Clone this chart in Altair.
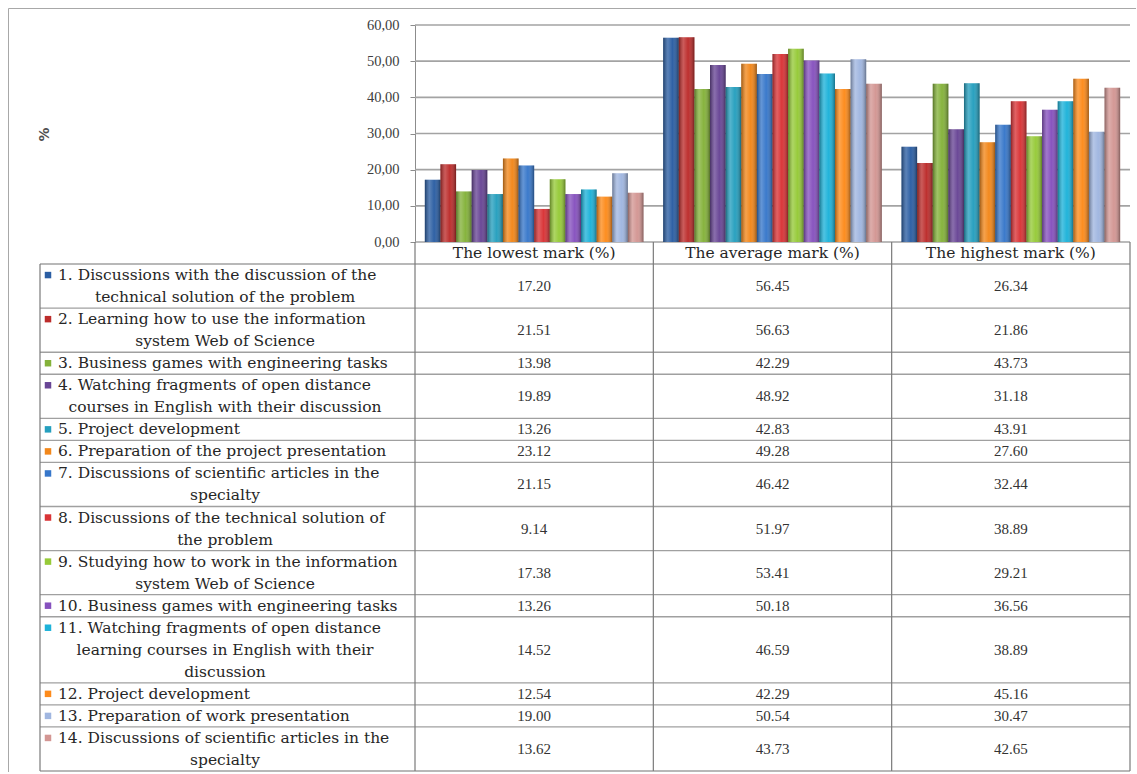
import altair as alt
import pandas as pd

# Mark categories (columns of the data table)
categories = ["The lowest mark (%)", "The average mark (%)", "The highest mark (%)"]

# Activities, already broken into the lines shown in the table
activities = [
    ["1. Discussions with the discussion of the", "technical solution of the problem"],
    ["2. Learning how to use the information", "system Web of Science"],
    ["3. Business games with engineering tasks"],
    ["4. Watching fragments of open distance", "courses in English with their discussion"],
    ["5. Project development"],
    ["6. Preparation of the project presentation"],
    ["7. Discussions of scientific articles in the", "specialty"],
    ["8. Discussions of the technical solution of", "the problem"],
    ["9. Studying how to work in the information", "system Web of Science"],
    ["10. Business games with engineering tasks"],
    ["11. Watching fragments of open distance", "learning courses in English with their", "discussion"],
    ["12. Project development"],
    ["13. Preparation of work presentation"],
    ["14. Discussions of scientific articles in the", "specialty"],
]

lowest = [17.20, 21.51, 13.98, 19.89, 13.26, 23.12, 21.15, 9.14, 17.38, 13.26, 14.52, 12.54, 19.00, 13.62]
average = [56.45, 56.63, 42.29, 48.92, 42.83, 49.28, 46.42, 51.97, 53.41, 50.18, 46.59, 42.29, 50.54, 43.73]
highest = [26.34, 21.86, 43.73, 31.18, 43.91, 27.60, 32.44, 38.89, 29.21, 36.56, 38.89, 45.16, 30.47, 42.65]

series_colors = [
    "#2B5EA3", "#BC2C2B", "#84B23A", "#684595", "#259FBE", "#F2871A",
    "#3777CA", "#D93336", "#96CA38", "#8651BE", "#1DB2D9", "#FD8B1B",
    "#A0B6E0", "#D39693",
]

y_ticks = [0, 10, 20, 30, 40, 50, 60]

# Frame of the chart body, in view pixels
PLOT_LEFT, PLOT_RIGHT = 407, 1122
PLOT_TOP, PLOT_BASE = 17, 234
TABLE_LEFT, TABLE_BOTTOM = 32, 763
LABEL_X, LABEL_MID_X, KEY_X = 50, 217, 40

names = [" ".join(lines) for lines in activities]
columns = [lowest, average, highest]

bars = pd.DataFrame(
    [
        {"activity": names[i], "category": categories[c], "value": columns[c][i]}
        for c in range(3)
        for i in range(len(names))
    ]
)

# Table rows: each row is as tall as its number of text lines
line_rows, value_rows, key_rows, row_edges = [], [], [], [{"y": 0}]
start = 0
for i, lines in enumerate(activities):
    n = len(lines)
    for j, text in enumerate(lines):
        line_rows.append({"text": text, "y": start + j + 0.5, "first": j == 0})
    key_rows.append({"activity": names[i], "y": start + 0.5})
    for c in range(3):
        value_rows.append({"col": c + 0.5, "value": columns[c][i], "y": start + n / 2})
    start += n
    row_edges.append({"y": start})
total_lines = start

lines_df = pd.DataFrame(line_rows)
first_lines = lines_df[lines_df["first"]]
more_lines = lines_df[~lines_df["first"]]
values_df = pd.DataFrame(value_rows)
keys_df = pd.DataFrame(key_rows)
hlines_df = pd.DataFrame(row_edges)
vlines_df = pd.DataFrame({"col": [0, 1, 2, 3], "y0": -1, "y1": total_lines})
left_edge_df = pd.DataFrame({"y0": [0], "y1": [total_lines]})
header_df = pd.DataFrame({"col": [0.5, 1.5, 2.5], "text": categories, "y": -0.5})
grid_df = pd.DataFrame({"tick": y_ticks})

# Scales
bar_x = alt.Scale(domain=categories, range=[PLOT_LEFT, PLOT_RIGHT], paddingInner=0, paddingOuter=0)
bar_off = alt.Scale(domain=names, paddingInner=0, paddingOuter=0.63)
bar_y = alt.Scale(domain=[0, 60], range=[PLOT_BASE, PLOT_TOP], nice=False)
col_x = alt.Scale(domain=[0, 3], range=[PLOT_LEFT, PLOT_RIGHT])
row_y = alt.Scale(domain=[-1, total_lines], range=[PLOT_BASE, TABLE_BOTTOM])
color = alt.Scale(domain=names, range=series_colors)

grid = alt.Chart(grid_df).mark_rule(color="#A3A3A3", strokeWidth=1.6).encode(
    y=alt.Y("tick:Q", scale=bar_y, axis=None),
    x=alt.value(PLOT_LEFT),
    x2=alt.value(PLOT_RIGHT),
)

bar_enc = dict(
    x=alt.X("category:N", scale=bar_x, axis=None, sort=categories),
    xOffset=alt.XOffset("activity:N", scale=bar_off, sort=names),
)

bar_layer = alt.Chart(bars).mark_bar().encode(
    y=alt.Y(
        "value:Q",
        scale=bar_y,
        axis=alt.Axis(
            values=y_ticks,
            offset=-PLOT_LEFT,
            labelExpr="replace(format(datum.value, '.2f'), '.', ',')",
            labelFont="Liberation Serif",
            labelFontSize=14.5,
            labelColor="#404040",
            labelPadding=11,
            tickSize=5,
            tickColor="#8C8C8C",
            domainColor="#8C8C8C",
            grid=False,
            title="%",
            titleX=-364,
            titleY=126,
            titleAngle=270,
            titleFont="DejaVu Sans",
            titleFontSize=14,
            titleFontWeight="bold",
            titleColor="#505050",
        ),
    ),
    color=alt.Color("activity:N", scale=color, legend=None),
    **bar_enc,
)

# Shading that gives the bars their rounded, bevelled look
shade = alt.Gradient(
    gradient="linear",
    x1=0, x2=1, y1=0, y2=0,
    stops=[
        alt.GradientStop(offset=0, color="rgba(0,0,0,0.35)"),
        alt.GradientStop(offset=0.3, color="rgba(255,255,255,0.22)"),
        alt.GradientStop(offset=0.6, color="rgba(255,255,255,0.02)"),
        alt.GradientStop(offset=1, color="rgba(0,0,0,0.38)"),
    ],
)
bar_shade = alt.Chart(bars).mark_bar(fill=shade).encode(
    y=alt.Y("value:Q", scale=bar_y, axis=None),
    **bar_enc,
)

hlines = alt.Chart(hlines_df).mark_rule(color="#A0A0A0", strokeWidth=1.4).encode(
    y=alt.Y("y:Q", scale=row_y, axis=None),
    x=alt.value(TABLE_LEFT),
    x2=alt.value(PLOT_RIGHT),
)

vlines = alt.Chart(vlines_df).mark_rule(color="#7A7A7A", strokeWidth=1.2).encode(
    x=alt.X("col:Q", scale=col_x, axis=None),
    y=alt.Y("y0:Q", scale=row_y, axis=None),
    y2="y1:Q",
)

left_edge = alt.Chart(left_edge_df).mark_rule(color="#7A7A7A", strokeWidth=1.2).encode(
    x=alt.value(TABLE_LEFT),
    y=alt.Y("y0:Q", scale=row_y, axis=None),
    y2="y1:Q",
)

header = alt.Chart(header_df).mark_text(
    font="DejaVu Serif", fontSize=15.5, color="#262626", baseline="middle"
).encode(
    x=alt.X("col:Q", scale=col_x, axis=None),
    y=alt.Y("y:Q", scale=row_y, axis=None),
    text="text:N",
)

values = alt.Chart(values_df).mark_text(
    font="Liberation Serif", fontSize=15, color="#333333", baseline="middle"
).encode(
    x=alt.X("col:Q", scale=col_x, axis=None),
    y=alt.Y("y:Q", scale=row_y, axis=None),
    text=alt.Text("value:Q", format=".2f"),
)

label_first = alt.Chart(first_lines).mark_text(
    font="DejaVu Serif", fontSize=15.5, color="#262626", align="left", baseline="middle"
).encode(
    x=alt.value(LABEL_X),
    y=alt.Y("y:Q", scale=row_y, axis=None),
    text="text:N",
)

label_more = alt.Chart(more_lines).mark_text(
    font="DejaVu Serif", fontSize=15.5, color="#262626", align="center", baseline="middle"
).encode(
    x=alt.value(LABEL_MID_X),
    y=alt.Y("y:Q", scale=row_y, axis=None),
    text="text:N",
)

keys = alt.Chart(keys_df).mark_square(size=42, opacity=1).encode(
    x=alt.value(KEY_X),
    y=alt.Y("y:Q", scale=row_y, axis=None),
    color=alt.Color("activity:N", scale=color, legend=None),
)

chart = (
    alt.layer(
        grid, bar_layer, bar_shade, hlines, vlines, left_edge,
        header, values, label_first, label_more, keys,
    )
    .resolve_scale(x="independent", y="independent")
    .properties(
        width=1128,
        height=764,
        autosize=alt.AutoSizeParams(type="none"),
        padding={"left": 8, "top": 8, "right": 0, "bottom": 0},
        background="white",
    )
    .configure_view(stroke="#A8A8A8", strokeWidth=1)
)

chart.save("out.html", embed_options={"renderer": "svg", "actions": False})
